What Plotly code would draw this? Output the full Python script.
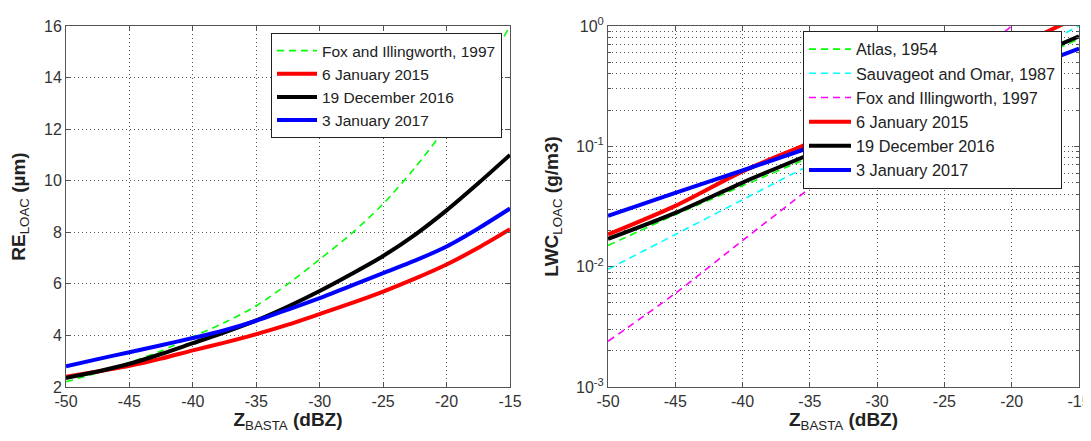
import plotly.graph_objects as go

# ---------------- data ----------------
z_fine = [-50, -47.5, -45, -42.5, -40, -37.5, -35, -32.5, -30, -27.5, -25, -22.5, -20, -17.5, -15]
re_fox = [2.2, 2.55, 2.95, 3.4, 3.95, 4.5, 5.15, 6.0, 6.95, 7.95, 9.1, 10.5, 12.1, 13.9, 16.0]
re_jan2015 = [2.4, 2.6, 2.82, 3.1, 3.42, 3.72, 4.05, 4.42, 4.83, 5.25, 5.7, 6.2, 6.75, 7.4, 8.12]
re_dec2016 = [2.35, 2.6, 2.9, 3.28, 3.7, 4.12, 4.58, 5.12, 5.72, 6.38, 7.08, 7.9, 8.85, 9.9, 11.0]
re_jan2017 = [2.8, 3.08, 3.35, 3.62, 3.9, 4.2, 4.57, 5.0, 5.45, 5.93, 6.42, 6.9, 7.45, 8.15, 8.92]

z5 = [-50, -45, -40, -35, -30, -25, -20, -15]
lwc_atlas = [0.015, 0.027, 0.047, 0.081, 0.14, 0.25, 0.44, 0.78]
lwc_sauv = [0.0095, 0.0185, 0.036, 0.07, 0.135, 0.26, 0.51, 1.0]
z_fox = [-50, -45, -40, -35, -30, -25, -20]
lwc_fox = [0.0024, 0.006, 0.0165, 0.045, 0.125, 0.35, 1.0]
lwc_jan2015 = [0.0185, 0.032, 0.062, 0.107, 0.19, 0.35, 0.65, 1.2]
lwc_dec2016 = [0.017, 0.028, 0.05, 0.086, 0.15, 0.26, 0.47, 0.82]
lwc_jan2017 = [0.0265, 0.041, 0.063, 0.098, 0.158, 0.25, 0.40, 0.65]

x_ticks = [-50, -45, -40, -35, -30, -25, -20, -15]
x_labels = ["-50", "-45", "-40", "-35", "-30", "-25", "-20", "-15"]
re_ticks = [2, 4, 6, 8, 10, 12, 14, 16]
log_decades = [0.001, 0.01, 0.1, 1]
log_labels = ["10<sup>-3</sup>", "10<sup>-2</sup>", "10<sup>-1</sup>", "10<sup>0</sup>"]
log_minor = [d * m for d in [0.001, 0.01, 0.1] for m in range(2, 10)]

# ---------------- layout geometry ----------------
# the page has an 8px body margin; the figure starts 8px in and reaches the window's right edge
OFF = 8
W, H = 1091 - OFF, 441 - 2 * OFF
L1, R1, L2, R2, TOP, BOT = 66, 510, 608, 1079, 26, 387
ML, MT = L1 - OFF, TOP - OFF
MR = W - (R2 - OFF)
MB = H - (BOT - OFF)
PW, PH = W - ML - MR, H - MT - MB

def px(x):
    return (x - OFF - ML) / PW

def py(y):
    return (BOT - y) / PH

FONT = "Liberation Sans, Arial, sans-serif"
DASH = "7px,5px"
TXT = "#222222"

fig = go.Figure()

def add(x, y, name, color, width, dash, xa, ya, legend):
    fig.add_trace(go.Scatter(
        x=x, y=y, name=name, mode="lines",
        line=dict(color=color, width=width, dash=dash, shape="spline", smoothing=0.8),
        xaxis=xa, yaxis=ya, legend=legend))

# left panel
add(z_fine, re_fox, "Fox and Illingworth, 1997", "#00FF00", 1.6, DASH, "x", "y", "legend")
add(z_fine, re_jan2015, "6 January 2015", "#FF0000", 4, "solid", "x", "y", "legend")
add(z_fine, re_dec2016, "19 December 2016", "#000000", 4, "solid", "x", "y", "legend")
add(z_fine, re_jan2017, "3 January 2017", "#0000FF", 4, "solid", "x", "y", "legend")

# right panel
add(z5, lwc_atlas, "Atlas, 1954", "#00FF00", 1.6, DASH, "x2", "y2", "legend2")
add(z5, lwc_sauv, "Sauvageot and Omar, 1987", "#00FFFF", 1.6, DASH, "x2", "y2", "legend2")
add(z_fox, lwc_fox, "Fox and Illingworth, 1997", "#FF00FF", 1.6, DASH, "x2", "y2", "legend2")
add(z5, lwc_jan2015, "6 January 2015", "#FF0000", 4, "solid", "x2", "y2", "legend2")
add(z5, lwc_dec2016, "19 December 2016", "#000000", 4, "solid", "x2", "y2", "legend2")
add(z5, lwc_jan2017, "3 January 2017", "#0000FF", 4, "solid", "x2", "y2", "legend2")

axis_common = dict(
    showline=True, linecolor="#555555", linewidth=1, mirror="allticks",
    ticks="inside", ticklen=5, tickcolor="#555555",
    gridcolor="#555555", griddash="1px,3px", gridwidth=1, showgrid=True,
    zeroline=False, automargin=False, ticklabeloverflow="allow",
    tickfont=dict(family=FONT, size=16, color="#333333"),
)
title_font = dict(size=19, family=FONT, color=TXT)

fig.update_layout(
    width=W, height=H,
    margin=dict(l=ML, r=MR, t=MT, b=MB, autoexpand=False),
    paper_bgcolor="white", plot_bgcolor="white",
    font=dict(family=FONT, color=TXT),
    showlegend=True,
    xaxis=dict(domain=[0, px(R1)], range=[-50, -15], tickvals=x_ticks, ticktext=x_labels,
               title=dict(text="<b>Z</b><sub>BASTA</sub><b> (dBZ)</b>", font=title_font, standoff=7),
               anchor="y", **axis_common),
    yaxis=dict(domain=[0, 1], range=[2, 16], tickvals=re_ticks,
               title=dict(text="<b>RE</b><sub>LOAC</sub><b> (µm)</b>", font=title_font, standoff=14),
               anchor="x", **axis_common),
    xaxis2=dict(domain=[px(L2), 1], range=[-50, -15], tickvals=x_ticks, ticktext=x_labels,
                title=dict(text="<b>Z</b><sub>BASTA</sub><b> (dBZ)</b>", font=title_font, standoff=7),
                anchor="y2", **axis_common),
    yaxis2=dict(domain=[0, 1], type="log", range=[-3, 0], tickvals=log_decades, ticktext=log_labels,
                minor=dict(tickvals=log_minor, ticks="inside", ticklen=3, tickcolor="#555555",
                           showgrid=True, gridcolor="#555555", griddash="1px,3px", gridwidth=1),
                title=dict(text="<b>LWC</b><sub>LOAC</sub><b> (g/m3)</b>", font=title_font, standoff=12),
                anchor="x2", **axis_common),
    legend=dict(x=px(271), y=py(33), xanchor="left", yanchor="top",
                bgcolor="white", bordercolor="#222222", borderwidth=1,
                font=dict(family=FONT, size=15.5, color=TXT),
                itemwidth=40, tracegroupgap=0),
    legend2=dict(x=px(803), y=py(31), xanchor="left", yanchor="top",
                 bgcolor="white", bordercolor="#222222", borderwidth=1,
                 font=dict(family=FONT, size=16.3, color=TXT),
                 itemwidth=42, tracegroupgap=0),
)

fig.write_html("out.html")
